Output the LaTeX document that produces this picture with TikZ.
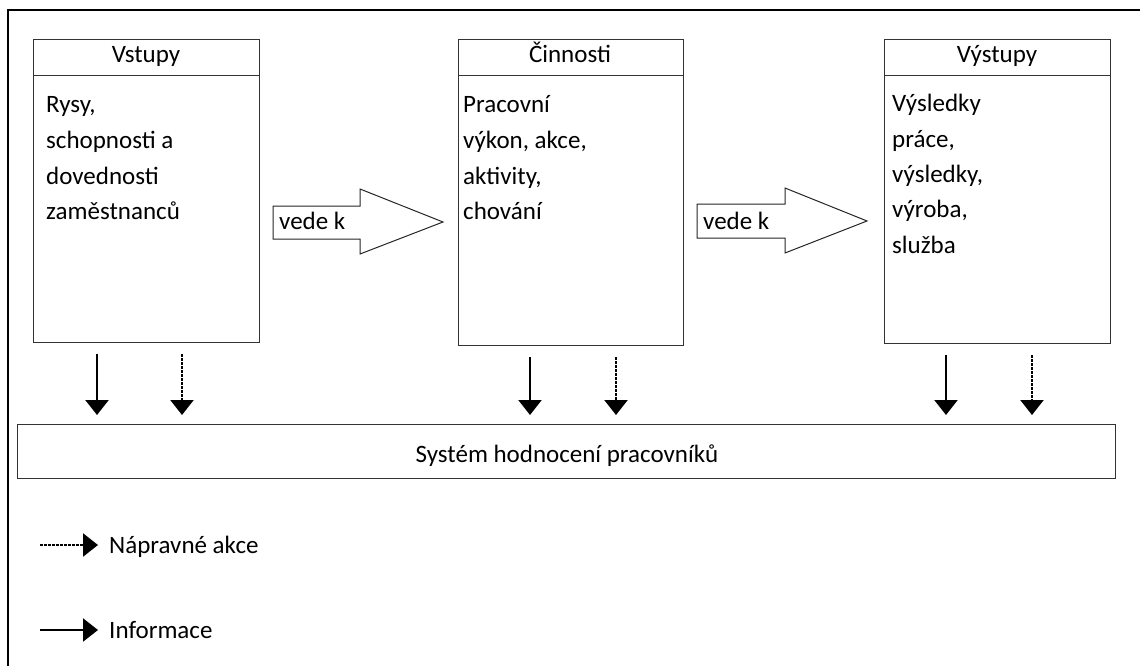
\documentclass[tikz,border=0pt]{standalone}
\usepackage{fontspec}
\setmainfont{Carlito}
\usetikzlibrary{arrows.meta,calc}
\tikzset{
  box/.style={draw=black!80, line width=1.4pt, rectangle, inner sep=0pt},
  lbl/.style={font=\fontsize{25}{30}\selectfont, inner sep=0pt},
  info/.style={line width=2.2pt, -{Triangle[width=23pt,length=15pt]}},
  fix/.style={line width=2.4pt, dash pattern=on 3pt off 1pt, -{Triangle[width=23pt,length=15pt]}},
  bigarrow/.style={draw=black!85, line width=1pt, fill=white},
}
\begin{document}
\begin{tikzpicture}[x=1pt,y=-1pt]
\useasboundingbox (0,0) rectangle (1140,666);
% outer frame
\draw[line width=2.5pt] (8,666) -- (8,10) -- (1141,10);

% boxes
\node[box, anchor=north west, minimum width=226pt, minimum height=36pt] (t1) at (33,39) {};
\node[box, anchor=north west, minimum width=226pt, minimum height=267pt] (b1) at (33,75) {};
\node[box, anchor=north west, minimum width=225pt, minimum height=36pt] (t2) at (458,39) {};
\node[box, anchor=north west, minimum width=225pt, minimum height=270pt] (b2) at (458,75) {};
\node[box, anchor=north west, minimum width=226pt, minimum height=36pt] (t3) at (884,39) {};
\node[box, anchor=north west, minimum width=226pt, minimum height=268pt] (b3) at (884,75) {};

\node[lbl, anchor=base] (h1) at (146,63) {Vstupy};
\node[lbl, anchor=base] (h2) at (570,63) {Činnosti};
\node[lbl, anchor=base] (h3) at (997,63) {Výstupy};

\foreach \t [count=\i] in {{Rysy,},{schopnosti a},{dovednosti},{zaměstnanců}}
  \node[lbl, anchor=base west] (l1\i) at (46,{113+35.5*(\i-1)}) {\t};
\foreach \t [count=\i] in {{Pracovní},{výkon, akce,},{aktivity,},{chování}}
  \node[lbl, anchor=base west] (l2\i) at (463,{113+35.5*(\i-1)}) {\t};
\foreach \t [count=\i] in {{Výsledky},{práce,},{výsledky,},{výroba,},{služba}}
  \node[lbl, anchor=base west] (l3\i) at (892,{112+35.3*(\i-1)}) {\t};

% block arrows
\draw[bigarrow] (273,206) -- (360,206) -- (360,189) -- (443,222) -- (360,254) -- (360,239) -- (273,239) -- cycle;
\node[lbl, anchor=base west] (v1) at (279,229) {vede k};
\draw[bigarrow] (697,204) -- (785,204) -- (785,188) -- (867,221) -- (785,253) -- (785,238) -- (697,238) -- cycle;
\node[lbl, anchor=base west] (v2) at (703,229) {vede k};

% system box
\node[box, anchor=north west, minimum width=1098pt, minimum height=54pt] (sys) at (17,424) {};
\node[lbl, anchor=base] (syst) at (567,462) {Systém hodnocení pracovníků};

% small arrows
\foreach \b/\xs/\xd in {b1/64/149, b2/72/158, b3/62/148}{
  \draw[info] ($(\b.south west)+(\xs,11)$) -- ($(\b.south west |- sys.north)+(\xs,-9)$);
  \draw[fix] ($(\b.south west)+(\xd,11)$) -- ($(\b.south west |- sys.north)+(\xd,-9)$);
}

% legend
\coordinate (la1) at (40,545);
\coordinate (la2) at (98,545);
\draw[fix] (la1) -- (la2);
\node[lbl, anchor=base west] (leg1) at (109,553) {Nápravné akce};
\coordinate (lb1) at (40,630);
\coordinate (lb2) at (98,630);
\draw[info] (lb1) -- (lb2);
\node[lbl, anchor=base west] (leg2) at (109,638) {Informace};
\end{tikzpicture}
\end{document}
